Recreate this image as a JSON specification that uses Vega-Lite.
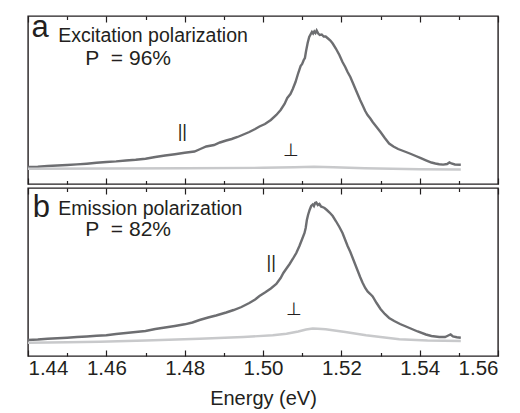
{
  "$schema": "https://vega.github.io/schema/vega-lite/v6.json",
  "padding": {"left": 22, "top": 11, "right": 0, "bottom": 3},
  "config": {
    "view": {"stroke": "#231f20", "strokeWidth": 1.4},
    "font": "Liberation Sans",
    "axis": {"grid": false, "domain": false, "tickColor": "#231f20", "tickWidth": 1.2, "labels": false, "title": null}
  },
  "spacing": 0,
  "datasets": {
    "a_par": [
      {"E":1.4400,"I":17},{"E":1.4425,"I":17.2},{"E":1.4450,"I":18},{"E":1.4475,"I":18.5},{"E":1.4500,"I":19},{"E":1.4525,"I":19.6},{"E":1.4550,"I":20.3},{"E":1.4575,"I":21.2},{"E":1.4600,"I":22},{"E":1.4625,"I":22.6},{"E":1.4650,"I":23.5},{"E":1.4675,"I":24.2},{"E":1.4700,"I":25.3},{"E":1.4725,"I":27},{"E":1.4750,"I":28.5},{"E":1.4775,"I":29.8},{"E":1.4800,"I":31.3},{"E":1.4825,"I":32.5},{"E":1.4840,"I":35},{"E":1.4855,"I":37.5},{"E":1.4875,"I":39},{"E":1.4890,"I":41.5},{"E":1.4906,"I":43.5},{"E":1.4920,"I":45},{"E":1.4935,"I":47},{"E":1.4950,"I":49.5},{"E":1.4965,"I":52},{"E":1.4980,"I":55},{"E":1.4991,"I":57.5},{"E":1.5005,"I":60},{"E":1.5020,"I":64},{"E":1.5034,"I":69},{"E":1.5045,"I":74},{"E":1.5055,"I":80},{"E":1.5062,"I":86},{"E":1.5070,"I":90},{"E":1.5076,"I":95},{"E":1.5083,"I":102},{"E":1.5090,"I":111},{"E":1.5096,"I":118},{"E":1.5100,"I":120},{"E":1.5104,"I":124},{"E":1.5107,"I":126},{"E":1.5110,"I":133},{"E":1.5114,"I":141},{"E":1.5118,"I":147},{"E":1.5122,"I":150},{"E":1.5125,"I":152},{"E":1.5128,"I":150.5},{"E":1.5131,"I":152.5},{"E":1.5134,"I":151},{"E":1.5137,"I":153.5},{"E":1.5141,"I":150.5},{"E":1.5145,"I":149},{"E":1.5150,"I":149.5},{"E":1.5155,"I":147.5},{"E":1.5160,"I":147.5},{"E":1.5166,"I":145.5},{"E":1.5172,"I":143.5},{"E":1.5178,"I":140.5},{"E":1.5186,"I":135.5},{"E":1.5195,"I":129},{"E":1.5203,"I":122},{"E":1.5210,"I":117},{"E":1.5216,"I":112},{"E":1.5223,"I":107},{"E":1.5229,"I":101.5},{"E":1.5236,"I":95},{"E":1.5242,"I":89.5},{"E":1.5248,"I":84},{"E":1.5254,"I":79},{"E":1.5261,"I":73},{"E":1.5267,"I":69},{"E":1.5274,"I":65.5},{"E":1.5280,"I":62},{"E":1.5290,"I":57},{"E":1.5300,"I":52},{"E":1.5311,"I":46},{"E":1.5322,"I":40.5},{"E":1.5333,"I":37.5},{"E":1.5345,"I":35},{"E":1.5355,"I":33.5},{"E":1.5365,"I":32},{"E":1.5378,"I":30},{"E":1.5390,"I":28},{"E":1.5403,"I":25.8},{"E":1.5416,"I":23.7},{"E":1.5430,"I":21.5},{"E":1.5440,"I":20.5},{"E":1.5450,"I":19.7},{"E":1.5460,"I":19.4},{"E":1.5470,"I":20},{"E":1.5476,"I":21.5},{"E":1.5481,"I":20.5},{"E":1.5490,"I":19.5},{"E":1.5505,"I":19.3}
    ],
    "a_perp": [
      {"E":1.4400,"I":15.3},{"E":1.4600,"I":15.5},{"E":1.4800,"I":15.8},{"E":1.5000,"I":16.2},{"E":1.5080,"I":16.8},{"E":1.5130,"I":17.3},{"E":1.5180,"I":16.8},{"E":1.5260,"I":15.8},{"E":1.5400,"I":14.8},{"E":1.5505,"I":14.5}
    ],
    "b_par": [
      {"E":1.4400,"I":16},{"E":1.4425,"I":16.5},{"E":1.4450,"I":17.3},{"E":1.4475,"I":17.8},{"E":1.4500,"I":18.3},{"E":1.4525,"I":19},{"E":1.4550,"I":19.5},{"E":1.4575,"I":20.2},{"E":1.4600,"I":20.7},{"E":1.4625,"I":22},{"E":1.4650,"I":23},{"E":1.4675,"I":24},{"E":1.4700,"I":25},{"E":1.4725,"I":27},{"E":1.4750,"I":28.5},{"E":1.4775,"I":30},{"E":1.4800,"I":31.7},{"E":1.4820,"I":33.5},{"E":1.4838,"I":36},{"E":1.4860,"I":38.5},{"E":1.4880,"I":40.5},{"E":1.4906,"I":43.5},{"E":1.4925,"I":46},{"E":1.4945,"I":49},{"E":1.4965,"I":53},{"E":1.4980,"I":56.5},{"E":1.4991,"I":60},{"E":1.5005,"I":63.5},{"E":1.5020,"I":67.5},{"E":1.5034,"I":72},{"E":1.5045,"I":78},{"E":1.5052,"I":83},{"E":1.5059,"I":87},{"E":1.5068,"I":92},{"E":1.5076,"I":97},{"E":1.5085,"I":103},{"E":1.5093,"I":110},{"E":1.5100,"I":117},{"E":1.5106,"I":123},{"E":1.5109,"I":128},{"E":1.5112,"I":136},{"E":1.5115,"I":141},{"E":1.5119,"I":146},{"E":1.5123,"I":150},{"E":1.5127,"I":151.5},{"E":1.5130,"I":150},{"E":1.5133,"I":153},{"E":1.5136,"I":153.5},{"E":1.5140,"I":151},{"E":1.5144,"I":152},{"E":1.5148,"I":149.5},{"E":1.5152,"I":149},{"E":1.5157,"I":148},{"E":1.5163,"I":146},{"E":1.5170,"I":143.5},{"E":1.5178,"I":140},{"E":1.5186,"I":135},{"E":1.5195,"I":129},{"E":1.5203,"I":123},{"E":1.5210,"I":116},{"E":1.5216,"I":110},{"E":1.5223,"I":104},{"E":1.5229,"I":98},{"E":1.5236,"I":91},{"E":1.5242,"I":85},{"E":1.5248,"I":79},{"E":1.5254,"I":73.5},{"E":1.5261,"I":68},{"E":1.5267,"I":64.5},{"E":1.5274,"I":62},{"E":1.5280,"I":59.5},{"E":1.5290,"I":53},{"E":1.5300,"I":47},{"E":1.5311,"I":42},{"E":1.5322,"I":38},{"E":1.5335,"I":35},{"E":1.5350,"I":32},{"E":1.5365,"I":29.5},{"E":1.5380,"I":27},{"E":1.5395,"I":24.5},{"E":1.5416,"I":21.5},{"E":1.5430,"I":20},{"E":1.5450,"I":19},{"E":1.5465,"I":19},{"E":1.5473,"I":20.5},{"E":1.5479,"I":21.5},{"E":1.5485,"I":19.5},{"E":1.5495,"I":18.8},{"E":1.5505,"I":18.3}
    ],
    "b_perp": [
      {"E":1.4400,"I":13.3},{"E":1.4500,"I":13.8},{"E":1.4583,"I":14.3},{"E":1.4700,"I":15.5},{"E":1.4838,"I":17.3},{"E":1.4950,"I":19},{"E":1.5025,"I":20.7},{"E":1.5060,"I":22.3},{"E":1.5090,"I":24.5},{"E":1.5110,"I":26.5},{"E":1.5127,"I":27.5},{"E":1.5140,"I":27.3},{"E":1.5160,"I":26.8},{"E":1.5178,"I":25.8},{"E":1.5210,"I":24},{"E":1.5263,"I":20.7},{"E":1.5300,"I":19},{"E":1.5348,"I":16.8},{"E":1.5420,"I":15.5},{"E":1.5505,"I":15}
    ],
    "a_letter": [{"E":1.4409,"I":147,"t":"a"}],
    "a_text": [{"E":1.4477,"I":142,"t":"Excitation polarization"}],
    "a_p": [{"E":1.4546,"I":119.5,"t":"P\u00a0\u00a0= 96%"}],
    "a_sym": [{"E":1.4794,"I":52,"t":"||"},{"E":1.5071,"I":33,"t":"⊥"}],
    "b_letter": [{"E":1.4412,"I":139,"t":"b"}],
    "b_text": [{"E":1.4477,"I":141,"t":"Emission polarization"}],
    "b_p": [{"E":1.4546,"I":120,"t":"P\u00a0\u00a0= 82%"}],
    "b_sym": [{"E":1.5021,"I":93,"t":"||"},{"E":1.5078,"I":46,"t":"⊥"}]
  },
  "vconcat": [
    {
      "width": 470, "height": 168,
      "resolve": {"axis": {"x": "independent"}},
      "layer": [
        {"data": {"name": "a_par"}, "mark": {"type": "line", "color": "#6d6e71", "strokeWidth": 2.4},
         "encoding": {
           "x": {"field": "E", "type": "quantitative", "scale": {"domain": [1.44, 1.56], "nice": false, "zero": false},
                 "axis": {"orient": "bottom", "values": [1.44,1.46,1.48,1.5,1.52,1.54,1.56], "tickSize": -6}},
           "y": {"field": "I", "type": "quantitative", "scale": {"domain": [0, 168], "nice": false}, "axis": null}}},
        {"data": {"name": "a_perp"}, "mark": {"type": "line", "color": "#c8c9cb", "strokeWidth": 2.4},
         "encoding": {
           "x": {"field": "E", "type": "quantitative", "scale": {"domain": [1.44, 1.56], "nice": false, "zero": false},
                 "axis": {"orient": "bottom", "values": [1.45,1.47,1.49,1.51,1.53,1.55], "tickSize": -3.5}},
           "y": {"field": "I", "type": "quantitative", "axis": null}}},
        {"data": {"name": "a_letter"}, "mark": {"type": "text", "fontSize": 31, "align": "left", "baseline": "alphabetic", "fill": "#231f20"},
         "encoding": {
           "x": {"field": "E", "type": "quantitative", "scale": {"domain": [1.44, 1.56], "nice": false, "zero": false},
                 "axis": {"orient": "top", "values": [1.44,1.46,1.48,1.5,1.52,1.54,1.56], "tickSize": -6}},
           "y": {"field": "I", "type": "quantitative", "axis": null},
           "text": {"field": "t"}}},
        {"data": {"name": "a_text"}, "mark": {"type": "text", "fontSize": 19.5, "align": "left", "baseline": "alphabetic", "fill": "#231f20"},
         "encoding": {
           "x": {"field": "E", "type": "quantitative", "scale": {"domain": [1.44, 1.56], "nice": false, "zero": false},
                 "axis": {"orient": "top", "values": [1.45,1.47,1.49,1.51,1.53,1.55], "tickSize": -3.5}},
           "y": {"field": "I", "type": "quantitative", "axis": null},
           "text": {"field": "t"}}},
        {"data": {"name": "a_p"}, "mark": {"type": "text", "fontSize": 21, "align": "left", "baseline": "alphabetic", "fill": "#231f20"},
         "encoding": {
           "x": {"field": "E", "type": "quantitative", "axis": null},
           "y": {"field": "I", "type": "quantitative", "axis": null},
           "text": {"field": "t"}}},
        {"data": {"name": "a_sym"}, "mark": {"type": "text", "fontSize": 18, "align": "center", "baseline": "middle", "fill": "#231f20"},
         "encoding": {
           "x": {"field": "E", "type": "quantitative", "axis": null},
           "y": {"field": "I", "type": "quantitative", "axis": null},
           "text": {"field": "t"}}}
      ]
    },
    {
      "width": 470, "height": 168,
      "resolve": {"axis": {"x": "independent"}},
      "layer": [
        {"data": {"name": "b_par"}, "mark": {"type": "line", "color": "#6d6e71", "strokeWidth": 2.4},
         "encoding": {
           "x": {"field": "E", "type": "quantitative", "scale": {"domain": [1.44, 1.56], "nice": false, "zero": false},
                 "axis": {"orient": "bottom", "values": [1.44,1.46,1.48,1.5,1.52,1.54,1.56], "tickSize": -6,
                          "labels": true, "format": ".2f", "labelFontSize": 20.5, "labelColor": "#231f20", "labelPadding": 8,
                          "title": "Energy (eV)", "titleFontSize": 20, "titleFontWeight": "normal", "titleColor": "#231f20", "titlePadding": 10}},
           "y": {"field": "I", "type": "quantitative", "scale": {"domain": [0, 168], "nice": false}, "axis": null}}},
        {"data": {"name": "b_perp"}, "mark": {"type": "line", "color": "#c8c9cb", "strokeWidth": 2.4},
         "encoding": {
           "x": {"field": "E", "type": "quantitative", "scale": {"domain": [1.44, 1.56], "nice": false, "zero": false},
                 "axis": {"orient": "bottom", "values": [1.45,1.47,1.49,1.51,1.53,1.55], "tickSize": -3.5}},
           "y": {"field": "I", "type": "quantitative", "axis": null}}},
        {"data": {"name": "b_letter"}, "mark": {"type": "text", "fontSize": 31, "align": "left", "baseline": "alphabetic", "fill": "#231f20"},
         "encoding": {
           "x": {"field": "E", "type": "quantitative", "scale": {"domain": [1.44, 1.56], "nice": false, "zero": false},
                 "axis": {"orient": "top", "values": [1.44,1.46,1.48,1.5,1.52,1.54,1.56], "tickSize": -6}},
           "y": {"field": "I", "type": "quantitative", "axis": null},
           "text": {"field": "t"}}},
        {"data": {"name": "b_text"}, "mark": {"type": "text", "fontSize": 19.5, "align": "left", "baseline": "alphabetic", "fill": "#231f20"},
         "encoding": {
           "x": {"field": "E", "type": "quantitative", "scale": {"domain": [1.44, 1.56], "nice": false, "zero": false},
                 "axis": {"orient": "top", "values": [1.45,1.47,1.49,1.51,1.53,1.55], "tickSize": -3.5}},
           "y": {"field": "I", "type": "quantitative", "axis": null},
           "text": {"field": "t"}}},
        {"data": {"name": "b_p"}, "mark": {"type": "text", "fontSize": 21, "align": "left", "baseline": "alphabetic", "fill": "#231f20"},
         "encoding": {
           "x": {"field": "E", "type": "quantitative", "axis": null},
           "y": {"field": "I", "type": "quantitative", "axis": null},
           "text": {"field": "t"}}},
        {"data": {"name": "b_sym"}, "mark": {"type": "text", "fontSize": 18, "align": "center", "baseline": "middle", "fill": "#231f20"},
         "encoding": {
           "x": {"field": "E", "type": "quantitative", "axis": null},
           "y": {"field": "I", "type": "quantitative", "axis": null},
           "text": {"field": "t"}}}
      ]
    }
  ]
}
